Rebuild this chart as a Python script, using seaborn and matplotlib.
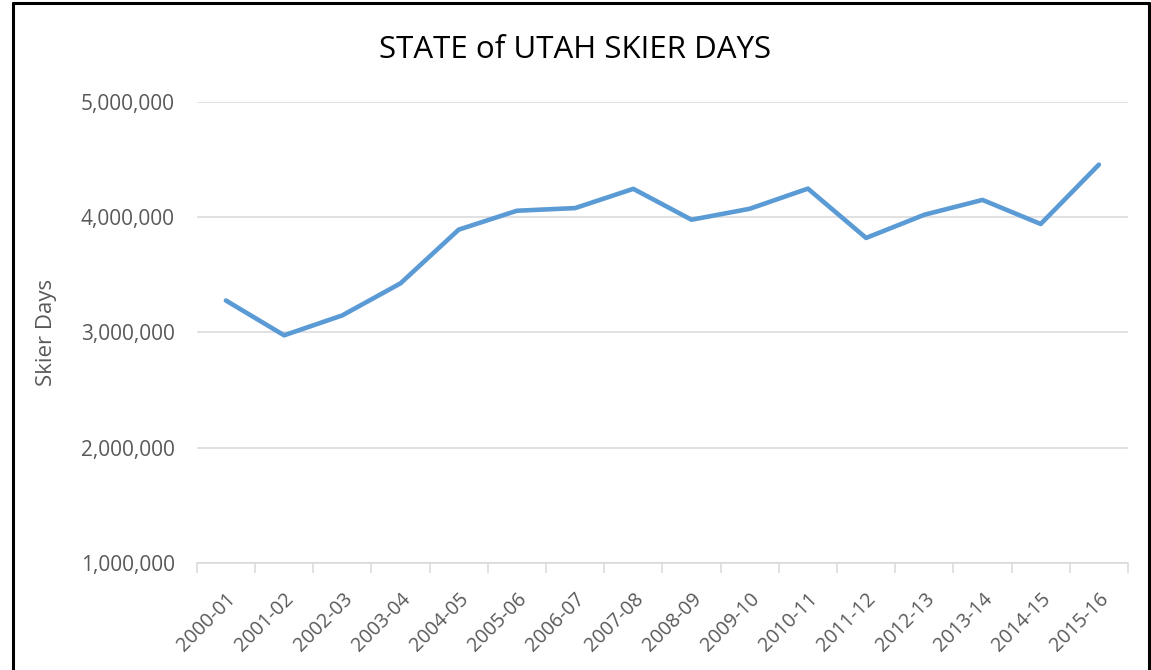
"""Line chart of Utah skier days by season."""
import numpy as np
import pandas as pd
import seaborn as sns
from matplotlib import pyplot as plt
from matplotlib.lines import Line2D
from matplotlib.ticker import FuncFormatter, FixedLocator

seasons = [
    "2000-01", "2001-02", "2002-03", "2003-04", "2004-05", "2005-06",
    "2006-07", "2007-08", "2008-09", "2009-10", "2010-11", "2011-12",
    "2012-13", "2013-14", "2014-15", "2015-16",
]
skier_days = [
    3276000, 2974000, 3147000, 3425000, 3891000, 4055000,
    4078000, 4245000, 3977000, 4072000, 4247000, 3819000,
    4020000, 4149000, 3940000, 4455000,
]
y_ticks = [1000000, 2000000, 3000000, 4000000, 5000000]

LINE_COLOR = "#5B9BD5"
GRID_COLOR = "#D9D9D9"
TEXT_COLOR = "#595959"

sns.set_theme(style="white")
plt.rcParams["font.family"] = ["Open Sans", "DejaVu Sans"]

df = pd.DataFrame({"Season": seasons, "Skier Days": skier_days})

fig = plt.figure(figsize=(11.51, 6.70), dpi=100)
ax = fig.add_axes([0.171, 0.160, 0.809, 0.688])

sns.lineplot(data=df, x="Season", y="Skier Days", color=LINE_COLOR,
             linewidth=3.3, ax=ax, sort=False)

ax.set_xlim(-0.5, len(seasons) - 0.5)
ax.set_ylim(y_ticks[0], y_ticks[-1])
ax.set_yticks(y_ticks)
ax.yaxis.set_major_formatter(FuncFormatter(lambda v, _: f"{v:,.0f}"))
ax.grid(axis="y", color=GRID_COLOR, linewidth=1.1)
ax.set_axisbelow(True)

# category labels centered, tick marks between categories
ax.set_xticks(range(len(seasons)))
ax.set_xticklabels(seasons, rotation=45, ha="right", rotation_mode="anchor")
ax.xaxis.set_minor_locator(FixedLocator(np.arange(-0.5, len(seasons), 1.0)))
ax.tick_params(axis="x", which="major", length=0, pad=19,
               labelsize=14.2, labelcolor=TEXT_COLOR)
ax.tick_params(axis="x", which="minor", length=7, width=1.1,
               color=GRID_COLOR, direction="out", bottom=True)
ax.tick_params(axis="y", length=0, pad=16, labelsize=15,
               labelcolor=TEXT_COLOR)

for side in ["top", "right", "left"]:
    ax.spines[side].set_visible(False)
ax.spines["bottom"].set_color(GRID_COLOR)
ax.spines["bottom"].set_linewidth(1.1)

ax.set_xlabel("")
ax.set_ylabel("Skier Days", fontsize=16, color=TEXT_COLOR, labelpad=17)
fig.text(0.4995, 0.925, "STATE of UTAH SKIER DAYS", ha="center", va="center",
         fontsize=22.5, color="black")

# outer frame like the screenshot border
for xs, ys in [([0.011, 0.011], [0, 0.996]), ([0.011, 0.998], [0.996, 0.996]),
               ([0.998, 0.998], [0, 0.996])]:
    fig.add_artist(Line2D(xs, ys, transform=fig.transFigure,
                          color="black", linewidth=2.2))

fig.savefig("out.png", dpi=100)
